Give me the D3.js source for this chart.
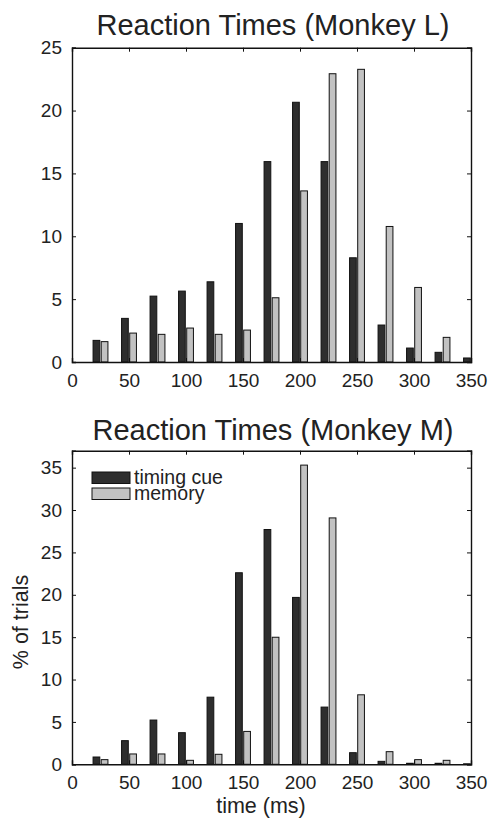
<!DOCTYPE html>
<html>
<head>
<meta charset="utf-8">
<script src="https://cdn.jsdelivr.net/npm/d3@7"></script>
<style>
  body { margin: 0; background: #fff; }
  svg { display: block; font-family: "Liberation Sans", Arial, Helvetica, sans-serif; }
</style>
</head>
<body>
<div id="chart"></div>
<script>
// bin centres (ms)
const bins = [25, 50, 75, 100, 125, 150, 175, 200, 225, 250, 275, 300, 325, 350];

// Monkey L (% of trials)
const cueL = [1.72, 3.47, 5.24, 5.64, 6.38, 11.02, 15.94, 20.66, 15.94, 8.29, 2.94, 1.11, 0.77, 0.32];
const memL = [1.62, 2.30, 2.20, 2.70, 2.20, 2.54, 5.11, 13.61, 22.93, 23.28, 10.78, 5.93, 1.96, 0];

// Monkey M (% of trials)
const cueM = [0.86, 2.79, 5.22, 3.73, 7.92, 22.6, 27.7, 19.69, 6.75, 1.37, 0.35, 0.12, 0.12, 0.06];
const memM = [0.55, 1.22, 1.22, 0.47, 1.18, 3.88, 14.99, 35.3, 29.07, 8.2, 1.49, 0.55, 0.47, 0];

const xTicks = [0, 50, 100, 150, 200, 250, 300, 350];
const yTicksL = [0, 5, 10, 15, 20, 25];
const yTicksM = [0, 5, 10, 15, 20, 25, 30, 35];

const seriesNames = ['timing cue', 'memory'];

const W = 492, H = 820;
const colors = { cue: '#2e2e2e', mem: '#c2c2c2' };
const barOffset = 3.57, barWidth = 5.9;   // in ms units

const svg = d3.select('#chart').append('svg')
    .attr('width', W)
    .attr('height', H);

function drawPanel(opt) {
    const x = d3.scaleLinear().domain([0, 350]).range([72, 471]);
    const y = d3.scaleLinear().domain([0, opt.yMax]).range([opt.bottom, opt.top]);
    const g = svg.append('g');

    const clipId = 'clip' + opt.id;
    svg.append('clipPath').attr('id', clipId)
        .append('rect')
        .attr('x', x(0)).attr('y', y(opt.yMax))
        .attr('width', x(350) - x(0)).attr('height', y(0) - y(opt.yMax));

    const bars = g.append('g').attr('clip-path', `url(#${clipId})`);

    // 两组柱子
    [[opt.cue, -barOffset, colors.cue], [opt.mem, barOffset, colors.mem]].forEach(([vals, off, col]) => {
        bars.selectAll(null)
            .data(bins.map((b, i) => ({ b, v: vals[i] })).filter(d => d.v > 0))
            .enter().append('rect')
            .attr('x', d => x(d.b + off - barWidth / 2))
            .attr('y', d => y(d.v))
            .attr('width', d => x(d.b + off + barWidth / 2) - x(d.b + off - barWidth / 2))
            .attr('height', d => y(0) - y(d.v))
            .attr('fill', col)
            .attr('stroke', '#111')
            .attr('stroke-width', 1);
    });

    // 坐标轴（内向刻度，四边）
    const axB = g.append('g').attr('transform', `translate(0,${y(0)})`)
        .call(d3.axisBottom(x).tickValues(xTicks).tickSize(-4).tickPadding(8).tickFormat(d3.format('d')));
    const axT = g.append('g').attr('transform', `translate(0,${y(opt.yMax)})`)
        .call(d3.axisTop(x).tickValues(xTicks).tickSize(-4).tickFormat(''));
    const axL = g.append('g').attr('transform', `translate(${x(0)},0)`)
        .call(d3.axisLeft(y).tickValues(opt.yTicks).tickSize(-4).tickPadding(10));
    const axR = g.append('g').attr('transform', `translate(${x(350)},0)`)
        .call(d3.axisRight(y).tickValues(opt.yTicks).tickSize(-4).tickFormat(''));

    [axB, axT, axL, axR].forEach(a => {
        a.select('.domain').attr('stroke', '#111').attr('stroke-width', 1.4);
        a.selectAll('.tick line').attr('stroke', '#111').attr('stroke-width', 1);
        a.selectAll('text').attr('fill', '#222').style('font-size', '19px');
    });
    axB.selectAll('text').attr('dy', '0.9em');

    // 标题
    g.append('text')
        .attr('x', 273).attr('y', opt.titleY)
        .attr('text-anchor', 'middle')
        .attr('fill', '#222')
        .style('font-size', '29px')
        .text(opt.title);

    return { g, x, y };
}

drawPanel({
    id: 'L', title: 'Reaction Times (Monkey L)', titleY: 35,
    top: 47.7, bottom: 362, yMax: 25, yTicks: yTicksL, cue: cueL, mem: memL
});

const pM = drawPanel({
    id: 'M', title: 'Reaction Times (Monkey M)', titleY: 440,
    top: 450.7, bottom: 764.3, yMax: 37, yTicks: yTicksM, cue: cueM, mem: memM
});

// 图例
const legend = pM.g.append('g').attr('transform', 'translate(92,472)');
[colors.cue, colors.mem].forEach((c, i) => {
    legend.append('rect')
        .attr('x', 0).attr('y', i * 16)
        .attr('width', 38).attr('height', 11.5)
        .attr('fill', c).attr('stroke', '#111').attr('stroke-width', 1);
    legend.append('text')
        .attr('x', 42).attr('y', i * 16 + 11.5)
        .attr('fill', '#222')
        .style('font-size', '19.5px')
        .text(seriesNames[i]);
});

// 轴标签
svg.append('text')
    .attr('transform', 'translate(28,622) rotate(-90)')
    .attr('text-anchor', 'middle')
    .attr('fill', '#222')
    .style('font-size', '21.5px')
    .text('% of trials');

svg.append('text')
    .attr('x', 261).attr('y', 813)
    .attr('text-anchor', 'middle')
    .attr('fill', '#222')
    .style('font-size', '21.5px')
    .text('time (ms)');
</script>
</body>
</html>
